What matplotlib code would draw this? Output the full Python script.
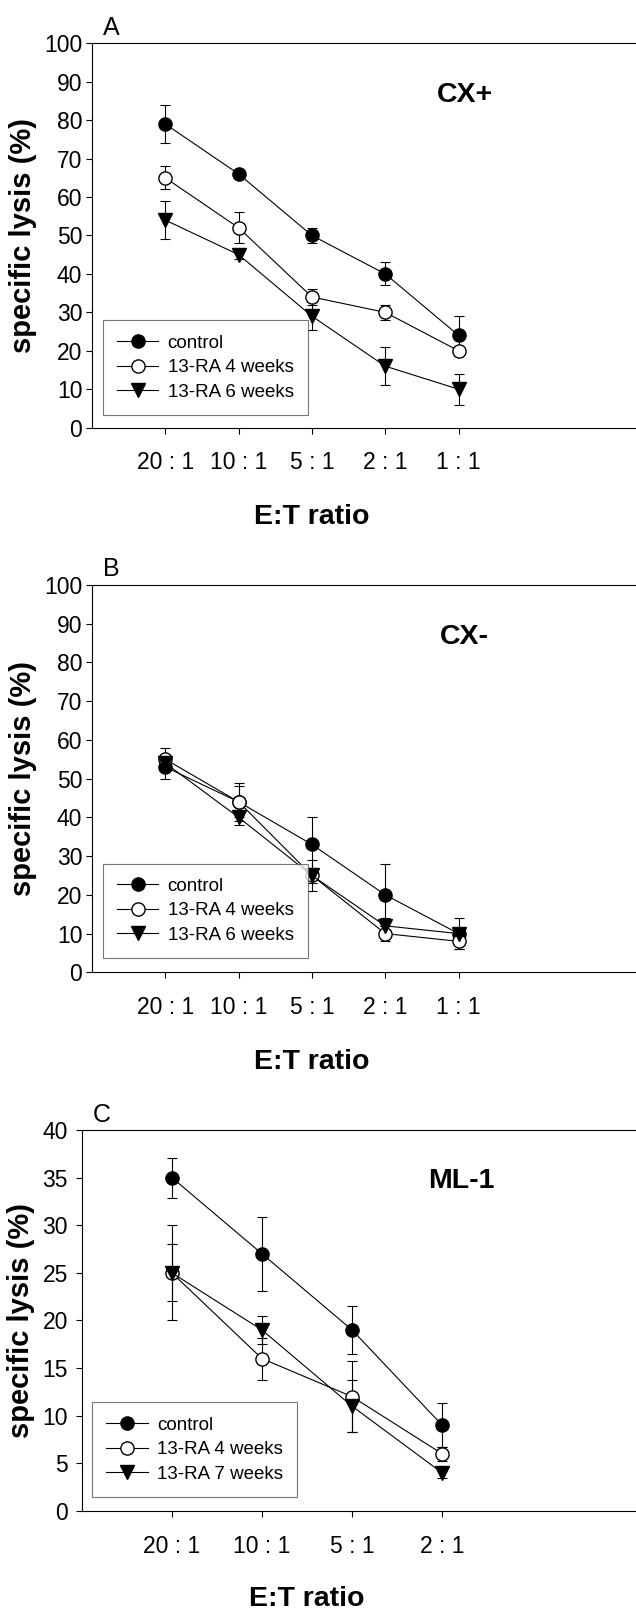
import matplotlib
matplotlib.use("Agg")
import matplotlib.pyplot as plt

plt.rcParams['font.family'] = ['Liberation Sans', 'DejaVu Sans']

# E:T ratios
ratios_ab = ["20 : 1", "10 : 1", "5 : 1", "2 : 1", "1 : 1"]
ratios_c = ["20 : 1", "10 : 1", "5 : 1", "2 : 1"]

# panel A - CX+
a_control = [79, 66, 50, 40, 24]
a_control_err = [5, 1, 2, 3, 5]
a_4wk = [65, 52, 34, 30, 20]
a_4wk_err = [3, 4, 2, 2, 1]
a_6wk = [54, 45, 29, 16, 10]
a_6wk_err = [5, 1, 3.7, 5, 4]

# panel B - CX-
b_control = [53, 44, 33, 20, 10]
b_control_err = [3, 5, 7, 8, 4]
b_4wk = [55, 44, 25, 10, 8]
b_4wk_err = [3, 4, 4, 2, 2]
b_6wk = [54, 40, 25, 12, 10]
b_6wk_err = [2, 2, 2, 2, 1]

# panel C - ML-1
c_control = [35, 27, 19, 9]
c_control_err = [2.1, 3.9, 2.5, 2.3]
c_4wk = [25, 16, 12, 6]
c_4wk_err = [5, 2.2, 3.7, 0.7]
c_7wk = [25, 19, 11, 4]
c_7wk_err = [3, 1.5, 2.7, 0.5]

fig = plt.figure(figsize=(6.36, 16.23), dpi=100)


def panel(rect, ratios, series, ymax, ystep, xmax, tag, name, leg_xy, ypad):
    ax = fig.add_axes(rect)
    x = list(range(1, len(ratios) + 1))
    styles = [("o", "black"), ("o", "white"), ("v", "black")]
    handles, labels = [], []
    for (vals, errs, lab), (m, fc) in zip(series, styles):
        c = ax.errorbar(x, vals, yerr=errs, fmt="-" + m, color="black", mfc=fc,
                        mec="black", ms=9.5, lw=0.8, elinewidth=0.8, capsize=3.5,
                        capthick=0.8)
        handles.append(c[0])
        labels.append(lab)
    ax.set_xlim(0, xmax)
    ax.set_ylim(0, ymax)
    ax.set_yticks(range(0, ymax + 1, ystep))
    ax.set_xticks(x)
    ax.set_xticklabels(ratios)
    ax.spines['right'].set_visible(False)
    for s in ax.spines.values():
        s.set_linewidth(0.8)
    ax.tick_params(axis='x', direction='out', length=4, width=0.8, pad=13, labelsize=16.5)
    ax.tick_params(axis='y', direction='out', length=4, width=0.8, pad=ypad, labelsize=16.5)
    ax.set_ylabel("specific lysis (%)", fontsize=21, fontweight='bold', labelpad=5)
    ax.text(sum(x) / len(x), -0.232, "E:T ratio", transform=ax.get_xaxis_transform(),
            ha='center', va='center', fontsize=20.5, fontweight='bold')
    ax.text(0.685, 0.865, name, transform=ax.transAxes, ha='center', va='center',
            fontsize=20.5, fontweight='bold')
    ax.text(0.02, 1.04, tag, transform=ax.transAxes, ha='left', va='center', fontsize=18)
    leg = ax.legend(handles, labels, loc='lower left', bbox_to_anchor=leg_xy,
                    borderaxespad=0, fontsize=13.5, fancybox=False, handlelength=2.2,
                    handletextpad=0.5, borderpad=0.75, labelspacing=0.4)
    leg.get_frame().set_edgecolor('#555555')
    leg.get_frame().set_linewidth(0.8)
    return ax


panel([0.1447, 0.7365, 0.8553, 0.2368], ratios_ab,
      [(a_control, a_control_err, "control"),
       (a_4wk, a_4wk_err, "13-RA 4 weeks"),
       (a_6wk, a_6wk_err, "13-RA 6 weeks")],
      100, 10, 7.42, "A", "CX+", (0.02, 0.033), 3)

panel([0.1447, 0.4009, 0.8553, 0.2387], ratios_ab,
      [(b_control, b_control_err, "control"),
       (b_4wk, b_4wk_err, "13-RA 4 weeks"),
       (b_6wk, b_6wk_err, "13-RA 6 weeks")],
      100, 10, 7.42, "B", "CX-", (0.02, 0.037), 3)

panel([0.1285, 0.0690, 0.8715, 0.2348], ratios_c,
      [(c_control, c_control_err, "control"),
       (c_4wk, c_4wk_err, "13-RA 4 weeks"),
       (c_7wk, c_7wk_err, "13-RA 7 weeks")],
      40, 5, 6.15, "C", "ML-1", (0.019, 0.037), 6)

fig.savefig("out.png", dpi=100)
